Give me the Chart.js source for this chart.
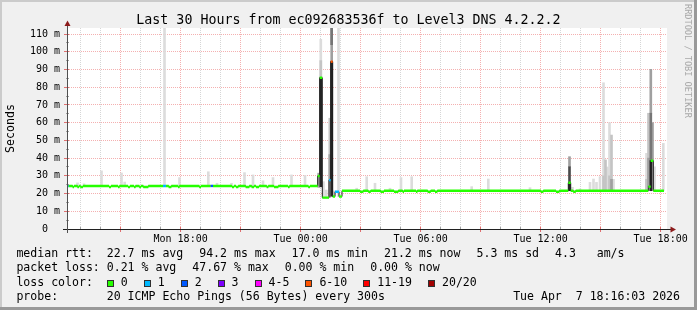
<!DOCTYPE html>
<html><head><meta charset="utf-8">
<script src="https://cdn.jsdelivr.net/npm/chart.js@4/dist/chart.umd.min.js"></script>
<style>
html,body{margin:0;padding:0;background:#f0f0f0;}
#wrap{position:relative;width:697px;height:310px;overflow:hidden;}
canvas{position:absolute;left:0;top:0;}
.t{position:absolute;font-family:'DejaVu Sans Mono',monospace;font-size:11.55px;line-height:14px;color:#000;white-space:pre;}
#title{position:absolute;left:0;top:12px;width:697px;text-align:center;font-family:'DejaVu Sans Mono',monospace;font-size:13.3px;line-height:16px;color:#000;white-space:pre;}
.box{position:absolute;width:5px;height:5px;border:1px solid #303030;}
#rrd{position:absolute;left:683px;top:4px;font-family:'DejaVu Sans Mono',monospace;font-size:8.6px;line-height:10px;color:#a8a8a8;writing-mode:vertical-rl;white-space:pre;}
</style></head>
<body><div id="wrap">
<canvas id="c" width="697" height="310"></canvas>
<div id="title">Last 30 Hours from ec092683536f to Level3 DNS 4.2.2.2</div>
<div id="rrd">RRDTOOL / TOBI OETIKER</div>
<div class="t" style="left:16.4px;top:245.5px">median rtt:  22.7 ms avg</div>
<div class="t" style="left:199.2px;top:245.5px">94.2 ms max</div>
<div class="t" style="left:291.6px;top:245.5px">17.0 ms min</div>
<div class="t" style="left:384px;top:245.5px">21.2 ms now</div>
<div class="t" style="left:476.5px;top:245.5px">5.3 ms sd</div>
<div class="t" style="left:555px;top:245.5px">4.3   am/s</div>
<div class="t" style="left:16.4px;top:260.3px">packet loss: 0.21 % avg</div>
<div class="t" style="left:192.3px;top:260.3px">47.67 % max</div>
<div class="t" style="left:284.7px;top:260.3px">0.00 % min</div>
<div class="t" style="left:370.2px;top:260.3px">0.00 % now</div>
<div class="t" style="left:16.4px;top:274.8px">loss color:</div>
<div id="lossLegend"></div>
<div class="t" style="left:16.4px;top:289px">probe:       20 ICMP Echo Pings (56 Bytes) every 300s</div>
<div class="t" style="right:17px;top:289px">Tue Apr  7 18:16:03 2026</div>
</div>
<script>
// ---- time axis: hours since Mon 00:00 ----
const viewStart = 12.32;
const viewEnd = 42.32;
const dataEnd = 42.17;

// median rtt (ms) as runs: start hour, value, lost pings (of 20)
const medianStart = [12.32,12.405,12.605,12.67,12.845,12.92,12.995,13.12,14.42,14.52,14.87,14.945,15.37,15.47,15.67,15.745,15.935,16.02,16.135,16.385,17.12,17.27,17.405,17.535,17.87,17.945,18.935,19.02,19.495,19.62,20.57,20.67,20.77,20.885,21.255,21.435,21.555,21.67,21.77,21.92,22.305,22.385,22.67,22.885,23.37,23.445,24.385,24.47,24.855,24.955,25.085,25.42,25.505,25.605,25.72,25.92,26.07,26.97,27.135,27.385,27.505,28.005,28.17,28.67,28.885,29.105,29.17,29.77,29.835,30.355,30.505,30.72,30.835,36.02,36.135,36.77,36.935,37.385,37.505,37.635,37.755,41.385,41.505,41.635];
const medianValue = [24.3,24.3,23.7,24.3,23.7,24.3,23.7,24.3,23.7,24.3,23.7,24.3,23.7,24.3,23.7,24.3,23.7,24.3,23.7,24.3,24.3,24.3,23.7,24.3,23.7,24.3,23.7,24.3,24.3,24.3,23.7,24.3,23.7,24.3,23.7,24.3,23.7,24.3,23.7,24.3,23.7,24.3,23.7,24.3,23.7,24.3,23.7,24.3,29.9,85.3,17.7,27.6,94.4,18.3,21.0,18.3,21.6,21.0,21.6,21.0,21.6,21.0,21.6,21.0,21.6,21.0,21.6,21.0,21.6,21.0,21.6,21.0,21.6,21.0,21.6,21.0,21.6,26.1,21.6,21.0,21.6,23.9,38.5,21.6];
const medianLoss = [1,0,0,0,0,0,0,0,0,0,0,0,0,0,0,0,0,0,0,0,1,0,0,0,0,0,0,0,2,0,0,0,0,0,0,0,0,0,0,0,0,0,0,0,0,0,0,0,0,0,0,1,8,0,1,0,0,0,0,0,0,0,0,0,0,0,0,0,0,0,0,0,0,0,0,0,0,0,0,0,0,0,0,0];

// smoke (ping spread) columns: hour, low ms, high ms, shade (0 light .. 5 dark)
const smokeTime = [12.845,13.17,14.045,15.045,15.205,17.195,17.945,19.385,19.82,20.545,21.195,21.62,22.12,22.62,23.545,24.22,24.905,25.01,25.01,25.01,25.145,25.285,25.46,25.46,25.555,25.555,25.555,25.67,25.895,26.805,27.305,27.72,28.47,29.02,29.555,32.555,33.385,35.47,37.445,37.445,37.445,37.595,37.97,38.47,38.645,38.795,38.97,39.145,39.145,39.245,39.345,39.445,39.445,39.545,39.545,39.645,41.295,41.295,41.395,41.395,41.51,41.51,41.51,41.595,41.695,42.135];
const smokeLow = [24.3,24.3,24.3,24.3,24.3,24.3,24.3,24.3,24.3,24.3,24.3,24.3,24.3,24.3,24.3,24.3,23.5,85.3,85.3,23.8,17.7,17.7,18,18,94.4,104,18.5,18.3,18.3,21.6,21.6,21.6,21.6,21.6,21.6,21.6,21.6,21.6,35.1,26.1,21.6,21.6,21.6,21.6,21.6,21.6,21.6,21.6,21.6,21.6,21.6,21.6,21.6,21.6,21.6,21.6,21.6,21.6,21.6,23.9,65.3,38.5,21.6,21.6,21.6,21.6];
const smokeHigh = [26.0,25.5,32.8,31.6,26.5,115,29.0,32.3,25.8,25.8,31.8,30.5,27.2,29.0,30.5,30.2,31.5,107,95,85.3,26.7,22,62.5,42,115,115,94.4,21.5,115,23.0,29.5,25.8,23.0,29.0,29.5,23.9,28.2,23.3,40.8,35.1,26.1,23.5,22.6,26.3,28.2,26.3,29.5,82.5,30,39,35,60,30,53,28,28,42.7,28,65.3,40,90.1,65.3,38.5,60,35.1,48.3];
const smokeShade = [0,0,0,0,0,0,0,0,0,0,0,0,0,0,0,0,2,0,1,5,0,0,1,2,2,3,5,0,0,0,0,0,0,0,0,0,0,0,2,4,5,0,0,0,0,0,0,0,1,1,0,0,1,1,2,0,0,1,1,2,2,3,5,2,0,0];

// axis ticks
const xTickHours = [18,24,30,36,42];
const xTickLabels = ['Mon 18:00','Tue 00:00','Tue 06:00','Tue 12:00','Tue 18:00'];
const yTickValues = [0,10,20,30,40,50,60,70,80,90,100,110];
const yTickLabels = ['0  ','10 m','20 m','30 m','40 m','50 m','60 m','70 m','80 m','90 m','100 m','110 m'];
const yMax = 113.4;

// loss color legend
const lossLabels = ['0','1','2','3','4-5','6-10','11-19','20/20'];
const lossMax = [0,1,2,3,5,10,19,20];
const lossColors = ['#26ff00','#00b8ff','#0059ff','#7e00ff','#ff00ff','#ff5500','#ff0000','#a10000'];

const shadeColors = ['#dcdcdc','#c4c4c4','#a0a0a0','#767676','#4a4a4a','#252525'];
const GRID = '#d6d6d6';
const MGRID = '#f4b0b0';
const FONT = "'DejaVu Sans Mono', monospace";

// legend boxes
(function(){
  const host = document.getElementById('lossLegend');
  let pos = 106.75;
  lossLabels.forEach((lab, i) => {
    const b = document.createElement('div');
    b.className = 'box';
    b.style.left = pos + 'px'; b.style.top = '279.5px'; b.style.background = lossColors[i];
    host.appendChild(b);
    const t = document.createElement('div');
    t.className = 't'; t.textContent = lab;
    t.style.left = (pos + 14) + 'px'; t.style.top = '274.8px';
    host.appendChild(t);
    pos += 14 + lab.length * 6.953 + 16;
  });
})();

const datasets = [];
shadeColors.forEach((col, s) => {
  const data = [];
  smokeTime.forEach((t, i) => { if (smokeShade[i] === s) data.push({x: t, y: [smokeLow[i], smokeHigh[i]]}); });
  datasets.push({type: 'bar', data, backgroundColor: col, borderWidth: 0, barThickness: 2, grouped: false, order: 20 - s});
});

const steps = medianStart.map((t, i) => ({x: t, y: medianValue[i]}));
steps.push({x: dataEnd, y: medianValue[medianValue.length - 1]});
datasets.push({type: 'line', data: steps, stepped: 'before', borderColor: '#1e1e1e', borderWidth: 1, pointRadius: 0, fill: false, order: 2});

lossMax.forEach((mx, k) => {
  const mn = k === 0 ? 0 : lossMax[k - 1] + 1;
  const data = [];
  medianStart.forEach((t, i) => {
    const l = medianLoss[i];
    if (l >= mn && l <= mx) {
      const end = i + 1 < medianStart.length ? medianStart[i + 1] : dataEnd;
      data.push({x: t, y: medianValue[i]}, {x: end, y: medianValue[i]}, {x: end, y: null});
    }
  });
  if (data.length) datasets.push({type: 'line', data, borderColor: lossColors[k], borderWidth: 2.4, pointRadius: 0, spanGaps: false, fill: false, borderCapStyle: 'butt', order: 0});
});

const hourGrid = [];
for (let h = Math.ceil(viewStart); h <= Math.floor(viewEnd); h++) hourGrid.push(h);
const yGrid = [];
for (let v = 0; v <= 110; v += 5) yGrid.push(v);

const framePlugin = {
  id: 'frame',
  beforeDraw(chart) {
    const {ctx, chartArea: a} = chart;
    ctx.save();
    ctx.fillStyle = '#f0f0f0'; ctx.fillRect(0, 0, chart.width, chart.height);
    ctx.fillStyle = '#ffffff'; ctx.fillRect(a.left, a.top, a.right - a.left, a.bottom - a.top);
    ctx.restore();
  },
  afterDraw(chart) {
    const {ctx, chartArea: a, scales} = chart;
    ctx.save();
    ctx.lineWidth = 1;
    hourGrid.forEach(h => {
      const x = Math.floor(scales.x.getPixelForValue(h)) + 0.5;
      const major = h % 3 === 0;
      ctx.strokeStyle = major ? '#e07070' : '#a0a0a0';
      ctx.beginPath(); ctx.moveTo(x, a.bottom - 2); ctx.lineTo(x, a.bottom + (major ? 3 : 1)); ctx.stroke();
    });
    yGrid.forEach(v => {
      const y = Math.floor(scales.y.getPixelForValue(v)) + 0.5;
      const major = v % 10 === 0;
      ctx.strokeStyle = major ? '#e07070' : '#a0a0a0';
      ctx.beginPath(); ctx.moveTo(a.left - (major ? 3 : 1), y); ctx.lineTo(a.left + 2, y); ctx.stroke();
    });
    ctx.strokeStyle = '#202020';
    ctx.beginPath(); ctx.moveTo(a.left - 4, a.bottom + 0.5); ctx.lineTo(a.right + 4, a.bottom + 0.5); ctx.stroke();
    ctx.strokeStyle = '#505050';
    ctx.beginPath(); ctx.moveTo(a.left + 0.5, a.bottom + 4); ctx.lineTo(a.left + 0.5, a.top - 3); ctx.stroke();
    ctx.fillStyle = '#8c1b1b';
    ctx.beginPath(); ctx.moveTo(a.left + 0.5, a.top - 7.5); ctx.lineTo(a.left - 2.5, a.top - 2); ctx.lineTo(a.left + 3.5, a.top - 2); ctx.closePath(); ctx.fill();
    ctx.beginPath(); ctx.moveTo(a.right + 9, a.bottom + 0.5); ctx.lineTo(a.right + 3.5, a.bottom - 2.5); ctx.lineTo(a.right + 3.5, a.bottom + 3.5); ctx.closePath(); ctx.fill();
    ctx.fillStyle = '#cbcbcb';
    ctx.fillRect(0, 0, chart.width, 2); ctx.fillRect(0, 0, 2, chart.height);
    ctx.fillStyle = '#999999';
    ctx.fillRect(0, chart.height - 3, chart.width, 3); ctx.fillRect(chart.width - 3, 0, 3, chart.height);
    ctx.restore();
  }
};

new Chart(document.getElementById('c'), {
  type: 'bar',
  data: {datasets},
  options: {
    responsive: false, animation: false, devicePixelRatio: 1, events: [],
    layout: {padding: {left: 0, right: 30, top: 28, bottom: 0}},
    plugins: {legend: {display: false}, tooltip: {enabled: false}, title: {display: false}},
    scales: {
      x: {
        type: 'linear', min: viewStart, max: viewEnd, offset: false,
        afterBuildTicks: s => { s.ticks = hourGrid.map(v => ({value: v})); },
        afterFit: s => { s.height = 81; },
        ticks: {autoSkip: false, maxRotation: 0, minRotation: 0, padding: 4, color: '#000',
          font: {family: FONT, size: 10},
          callback: v => { const i = xTickHours.indexOf(v); return i >= 0 ? xTickLabels[i] : ''; }},
        grid: {offset: false, drawTicks: false, lineWidth: 1,
          color: c => (c.tick && c.tick.value % 3 === 0) ? MGRID : GRID},
        border: {display: false, dash: [1, 1]}
      },
      y: {
        type: 'linear', min: 0, max: yMax,
        afterBuildTicks: s => { s.ticks = yGrid.map(v => ({value: v})); },
        afterFit: s => { s.width = 67; },
        ticks: {padding: 7, color: '#000', font: {family: FONT, size: 10},
          callback: v => { const i = yTickValues.indexOf(v); return i >= 0 ? yTickLabels[i] : ''; }},
        grid: {drawTicks: false, lineWidth: 1,
          color: c => (c.tick && c.tick.value % 10 === 0) ? MGRID : GRID},
        border: {display: false, dash: [1, 1]},
        title: {display: true, text: 'Seconds', color: '#000', font: {family: FONT, size: 11.6}, padding: {top: 4, bottom: 0}}
      }
    }
  },
  plugins: [framePlugin]
});
</script>
</body></html>
